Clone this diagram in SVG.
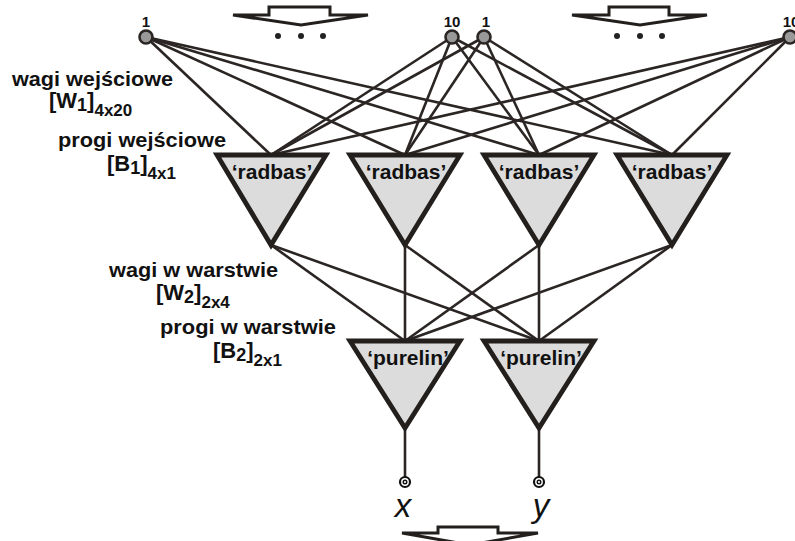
<svg xmlns="http://www.w3.org/2000/svg" width="795" height="541" viewBox="0 0 795 541">
  <style>
    .wire { stroke: #2b2624; stroke-width: 2.6; fill: none; }
    .neuron { fill: #dcdcdc; stroke: #231f1d; stroke-width: 4.8; stroke-linejoin: miter; }
    .input { fill: #999999; stroke: #2b2624; stroke-width: 2.6; }
    .flow { fill: #ffffff; stroke: #231f1d; stroke-width: 3; stroke-linejoin: miter; }
    .lbl { font-family: "Liberation Sans", Arial, sans-serif; font-weight: bold; fill: #111; }
    .num { font-family: "Liberation Sans", Arial, sans-serif; font-weight: bold; font-size: 15px; fill: #111; text-anchor: middle; }
    .fn { font-family: "Liberation Sans", Arial, sans-serif; font-weight: bold; font-size: 21px; fill: #111; text-anchor: middle; }
    .out { font-family: "Liberation Sans", Arial, sans-serif; font-style: italic; font-size: 33px; fill: #111; text-anchor: middle; }
    .dot { fill: #222; }
  </style>

  <!-- data-flow arrows -->
  <g id="flow-arrows">
    <polygon class="flow" points="233,15 269,15 269,7 330,7 330,15 368,15 301,25"/>
    <polygon class="flow" points="572,15 609,15 609,7 669,7 669,15 707,15 640,25"/>
    <polygon class="flow" points="402,533 438,533 438,527 498,527 498,533 538,533 470,545"/>
    <circle class="dot" cx="278" cy="36" r="3"/>
    <circle class="dot" cx="301" cy="36" r="3"/>
    <circle class="dot" cx="323" cy="36" r="3"/>
    <circle class="dot" cx="617" cy="36" r="3"/>
    <circle class="dot" cx="640" cy="36" r="3"/>
    <circle class="dot" cx="662" cy="36" r="3"/>
  </g>

  <!-- connections -->
  <g id="connectors">
    <!-- inputs to radial basis layer -->
    <line class="wire" x1="146" y1="37" x2="271" y2="155"/>
    <line class="wire" x1="146" y1="37" x2="405" y2="155"/>
    <line class="wire" x1="146" y1="37" x2="539" y2="155"/>
    <line class="wire" x1="146" y1="37" x2="672" y2="155"/>
    <line class="wire" x1="452" y1="37" x2="271" y2="155"/>
    <line class="wire" x1="452" y1="37" x2="405" y2="155"/>
    <line class="wire" x1="452" y1="37" x2="539" y2="155"/>
    <line class="wire" x1="452" y1="37" x2="672" y2="155"/>
    <line class="wire" x1="484" y1="37" x2="271" y2="155"/>
    <line class="wire" x1="484" y1="37" x2="405" y2="155"/>
    <line class="wire" x1="484" y1="37" x2="539" y2="155"/>
    <line class="wire" x1="484" y1="37" x2="672" y2="155"/>
    <line class="wire" x1="790" y1="37" x2="271" y2="155"/>
    <line class="wire" x1="790" y1="37" x2="405" y2="155"/>
    <line class="wire" x1="790" y1="37" x2="539" y2="155"/>
    <line class="wire" x1="790" y1="37" x2="672" y2="155"/>
    <!-- radial basis layer to linear layer -->
    <line class="wire" x1="271" y1="245" x2="405" y2="341"/>
    <line class="wire" x1="271" y1="245" x2="539" y2="341"/>
    <line class="wire" x1="405" y1="245" x2="405" y2="341"/>
    <line class="wire" x1="405" y1="245" x2="539" y2="341"/>
    <line class="wire" x1="539" y1="245" x2="405" y2="341"/>
    <line class="wire" x1="539" y1="245" x2="539" y2="341"/>
    <line class="wire" x1="672" y1="245" x2="405" y2="341"/>
    <line class="wire" x1="672" y1="245" x2="539" y2="341"/>
    <!-- outputs -->
    <line class="wire" x1="405" y1="428" x2="405" y2="477"/>
    <line class="wire" x1="539" y1="428" x2="539" y2="477"/>
  </g>

  <!-- input nodes -->
  <g id="in-1a"><circle class="input" cx="146" cy="37" r="6.5"/><text class="num" x="146" y="27">1</text></g>
  <g id="in-10a"><circle class="input" cx="452" cy="37" r="6.5"/><text class="num" x="452" y="27">10</text></g>
  <g id="in-1b"><circle class="input" cx="484" cy="37" r="6.5"/><text class="num" x="486" y="27">1</text></g>
  <g id="in-10b"><circle class="input" cx="790" cy="37" r="6.5"/><text class="num" x="791" y="27">10</text></g>

  <!-- radial basis neurons -->
  <g id="rb-1"><polygon class="neuron" points="217,155 326,155 271,245"/><text class="fn" x="272" y="179">‘radbas’</text></g>
  <g id="rb-2"><polygon class="neuron" points="350,155 460,155 405,245"/><text class="fn" x="406" y="179">‘radbas’</text></g>
  <g id="rb-3"><polygon class="neuron" points="484,155 594,155 539,245"/><text class="fn" x="539" y="179">‘radbas’</text></g>
  <g id="rb-4"><polygon class="neuron" points="617,155 727,155 672,245"/><text class="fn" x="672" y="179">‘radbas’</text></g>

  <!-- linear neurons -->
  <g id="lin-x"><polygon class="neuron" points="350,341 460,341 405,428"/><text class="fn" x="408" y="365">‘purelin’</text></g>
  <g id="lin-y"><polygon class="neuron" points="484,341 594,341 539,428"/><text class="fn" x="541" y="365">‘purelin’</text></g>

  <!-- output terminals -->
  <g id="out-x">
    <circle cx="405" cy="482" r="5" fill="#fff" stroke="#111" stroke-width="2.2"/>
    <circle cx="405" cy="482" r="1.8" fill="#fff" stroke="#111" stroke-width="1.4"/>
    <text class="out" x="403" y="517">x</text>
  </g>
  <g id="out-y">
    <circle cx="539" cy="482" r="5" fill="#fff" stroke="#111" stroke-width="2.2"/>
    <circle cx="539" cy="482" r="1.8" fill="#fff" stroke="#111" stroke-width="1.4"/>
    <text class="out" x="541" y="517">y</text>
  </g>

  <!-- layer parameter labels -->
  <g id="labels">
    <text class="lbl" x="12" y="86" font-size="21" textLength="161" lengthAdjust="spacingAndGlyphs">wagi wejściowe</text>
    <text class="lbl" x="49" y="108" font-size="22">[W<tspan font-size="18" dy="3">1</tspan><tspan dy="-3">]</tspan><tspan font-size="17" dy="8">4x20</tspan></text>
    <text class="lbl" x="58" y="147" font-size="21" textLength="168" lengthAdjust="spacingAndGlyphs">progi wejściowe</text>
    <text class="lbl" x="107" y="171" font-size="22">[B<tspan font-size="18" dy="3">1</tspan><tspan dy="-3">]</tspan><tspan font-size="17" dy="8">4x1</tspan></text>
    <text class="lbl" x="109" y="277" font-size="21" textLength="169" lengthAdjust="spacingAndGlyphs">wagi w warstwie</text>
    <text class="lbl" x="156" y="300" font-size="22">[W<tspan font-size="18" dy="3">2</tspan><tspan dy="-3">]</tspan><tspan font-size="17" dy="8">2x4</tspan></text>
    <text class="lbl" x="160" y="334" font-size="21" textLength="176" lengthAdjust="spacingAndGlyphs">progi w warstwie</text>
    <text class="lbl" x="213" y="358" font-size="22">[B<tspan font-size="18" dy="3">2</tspan><tspan dy="-3">]</tspan><tspan font-size="17" dy="8">2x1</tspan></text>
  </g>
</svg>
